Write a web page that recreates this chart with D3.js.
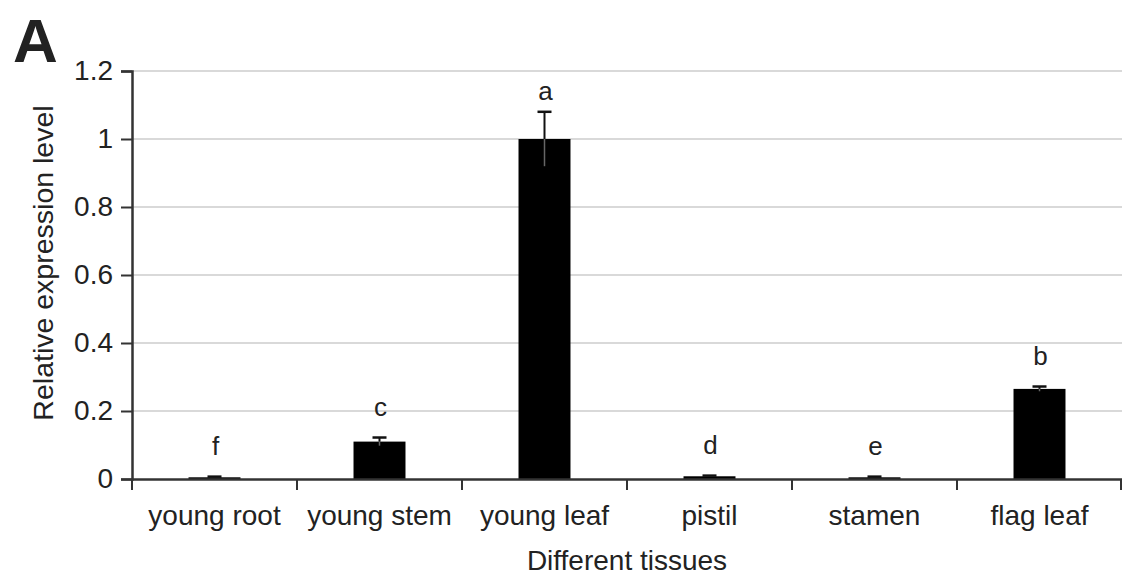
<!DOCTYPE html>
<html>
<head>
<meta charset="utf-8">
<script src="https://cdn.jsdelivr.net/npm/d3@7/dist/d3.min.js"></script>
<style>
  html, body { margin: 0; padding: 0; background: #fff; }
  svg { display: block; }
  text { font-family: "Liberation Sans", Arial, sans-serif; fill: #222; }
</style>
</head>
<body>
<svg id="chart" width="1122" height="575"></svg>
<script>
const categories = ["young root", "young stem", "young leaf", "pistil", "stamen", "flag leaf"];
const values = [0.005, 0.11, 1.0, 0.008, 0.005, 0.265];
const errors = [0.002, 0.012, 0.08, 0.002, 0.002, 0.007];
const letters = ["f", "c", "a", "d", "e", "b"];
const yTicks = [0, 0.2, 0.4, 0.6, 0.8, 1, 1.2];

(function () {
const svg = d3.select("#chart");
const mLeft = 132, mRight = 1122, mTop = 71, mBottom = 479;

const x = d3.scaleBand().domain(categories).range([mLeft, mRight]).paddingInner(0.685).paddingOuter(0.3425);
const xb = d3.scaleBand().domain(categories).range([mLeft, mRight]).padding(0);
const y = d3.scaleLinear().domain([0, 1.2]).range([mBottom, mTop]);

// gridlines
svg.append("g").selectAll("line").data(yTicks.filter(d => d > 0)).join("line")
  .attr("x1", mLeft).attr("x2", mRight)
  .attr("y1", d => y(d)).attr("y2", d => y(d))
  .attr("stroke", "#d9d9d9").attr("stroke-width", 2);

// bars
svg.append("g").selectAll("rect").data(values).join("rect")
  .attr("x", (d, i) => x(categories[i]))
  .attr("width", x.bandwidth())
  .attr("y", d => y(d))
  .attr("height", d => mBottom - y(d))
  .attr("fill", "#000");

// error bars
const eb = svg.append("g");
values.forEach((v, i) => {
  const cx = x(categories[i]) + x.bandwidth() / 2;
  eb.append("line").attr("x1", cx).attr("x2", cx)
    .attr("y1", y(v)).attr("y2", y(v - errors[i]))
    .attr("stroke", "#666").attr("stroke-width", 1.5);
  eb.append("line").attr("x1", cx).attr("x2", cx)
    .attr("y1", y(v)).attr("y2", y(v + errors[i]))
    .attr("stroke", "#111").attr("stroke-width", 2);
  eb.append("line").attr("x1", cx - 7).attr("x2", cx + 7)
    .attr("y1", y(v + errors[i])).attr("y2", y(v + errors[i]))
    .attr("stroke", "#111").attr("stroke-width", 2.5);
});

// significance letters
svg.append("g").selectAll("text").data(letters).join("text")
  .attr("x", (d, i) => x(categories[i]) + x.bandwidth() / 2 + 1)
  .attr("y", (d, i) => Math.max(y(values[i] + errors[i]) - 22, y(1.2) + 29))
  .attr("text-anchor", "middle")
  .style("font-size", "26px")
  .text(d => d);

// y axis
const yAxis = d3.axisLeft(y).tickValues(yTicks).tickSize(11).tickPadding(8)
  .tickFormat(d => d3.format("~g")(d));
const gy = svg.append("g").attr("transform", `translate(${mLeft},0)`).call(yAxis);
gy.select(".domain").attr("stroke", "#333").attr("stroke-width", 2.5);
gy.selectAll(".tick line").attr("stroke", "#333").attr("stroke-width", 2);
gy.selectAll(".tick text").style("font-size", "28px").attr("fill", "#222");

// x axis
const xAxis = d3.axisBottom(xb).tickSize(0).tickPadding(26);
const gx = svg.append("g").attr("transform", `translate(0,${mBottom})`).call(xAxis);
gx.select(".domain").attr("stroke", "#333").attr("stroke-width", 2.5);
gx.selectAll(".tick text").style("font-size", "28px").attr("fill", "#222").attr("dy", "0.71em");
// boundary ticks
gx.append("g").selectAll("line").data(categories.concat([null])).join("line")
  .attr("x1", (d, i) => i < categories.length ? xb(d) : mRight - 1)
  .attr("x2", (d, i) => i < categories.length ? xb(d) : mRight - 1)
  .attr("y1", 0).attr("y2", 11)
  .attr("stroke", "#333").attr("stroke-width", 2);

// axis titles
svg.append("text")
  .attr("x", (mLeft + mRight) / 2)
  .attr("y", 570)
  .attr("text-anchor", "middle")
  .style("font-size", "28px")
  .text("Different tissues");

svg.append("text")
  .attr("transform", `translate(53,263) rotate(-90)`)
  .attr("text-anchor", "middle")
  .style("font-size", "28.5px")
  .text("Relative expression level");

// panel label
svg.append("text")
  .attr("x", 13).attr("y", 62)
  .style("font-size", "62px").style("font-weight", "bold")
  .attr("fill", "#000")
  .text("A");
})();
</script>
</body>
</html>
